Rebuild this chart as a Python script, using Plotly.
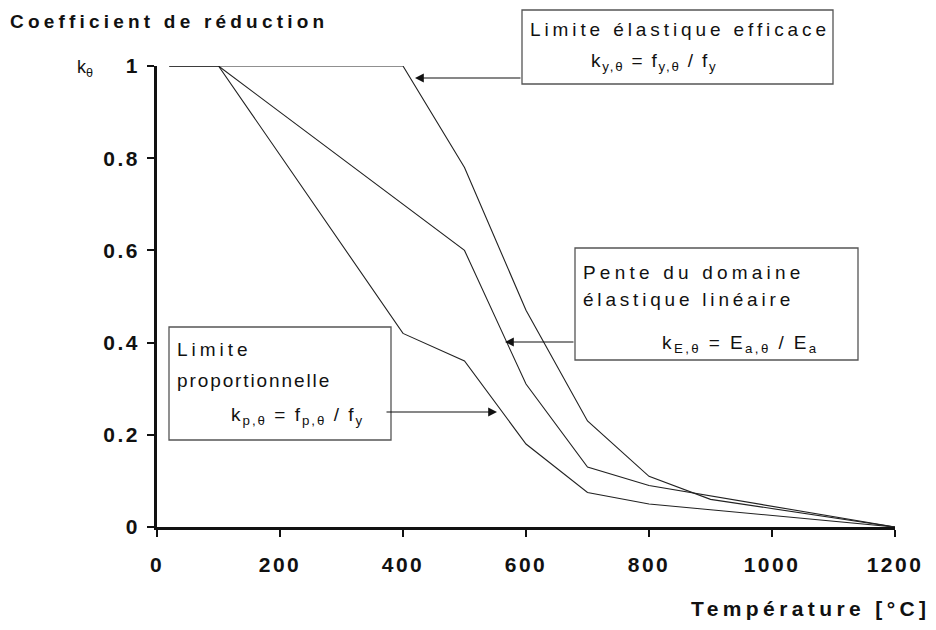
import plotly.graph_objects as go

temperature = [20, 100, 200, 300, 400, 500, 600, 700, 800, 900, 1000, 1100, 1200]
k_y = [1.0, 1.0, 1.0, 1.0, 1.0, 0.78, 0.47, 0.23, 0.11, 0.06, 0.04, 0.02, 0.0]
k_E = [1.0, 1.0, 0.9, 0.8, 0.7, 0.6, 0.31, 0.13, 0.09, 0.0675, 0.045, 0.0225, 0.0]
k_p = [1.0, 1.0, 0.807, 0.613, 0.42, 0.36, 0.18, 0.075, 0.05, 0.0375, 0.025, 0.0125, 0.0]

x_ticks = [0, 200, 400, 600, 800, 1000, 1200]
x_tick_labels = ["0", "200", "400", "600", "800", "1000", "1200"]
y_ticks = [0, 0.2, 0.4, 0.6, 0.8, 1]
y_tick_labels = ["0", "0.2", "0.4", "0.6", "0.8", "1"]

FONT = "Liberation Sans, Arial, sans-serif"
OFF = 8  # page body margin
W, H = 936 - OFF, 630 - OFF
L, T = 157 - OFF, 66 - OFF
R, B = W - (895 - OFF), H - (527 - OFF)
PW, PH = W - L - R, H - T - B


def px(x):
    return (x - OFF - L) / PW


def py(y):
    return (H - B - (y - OFF)) / PH


def sp(text, s=1.5):
    return f'<span style="letter-spacing:{s}px">{text}</span>'


fig = go.Figure()
for vals in (k_y, k_E, k_p):
    fig.add_trace(go.Scatter(x=temperature, y=vals, mode="lines",
                             line=dict(color="#222", width=1.1),
                             showlegend=False, cliponaxis=False, hoverinfo="skip"))

box = dict(type="rect", xref="paper", yref="paper", line=dict(color="#555", width=1.3),
           fillcolor="white", layer="above")
fig.add_shape(box, x0=px(522), x1=px(833), y0=py(84), y1=py(10))
fig.add_shape(box, x0=px(575), x1=px(858), y0=py(360), y1=py(248))
fig.add_shape(box, x0=px(169), x1=px(391), y0=py(440), y1=py(327))

txt = dict(xref="paper", yref="paper", showarrow=False, xanchor="left", yanchor="middle",
           font=dict(family=FONT, size=19, color="#111"))
labels = [
    (528, 29, sp("Limite élastique efficace", 3.9)),
    (589, 62, sp("k<sub>y,θ</sub> = f<sub>y,θ</sub> / f<sub>y</sub>", 1.8)),
    (581, 272, sp("Pente du domaine", 4.2)),
    (581, 299, sp("élastique linéaire", 3.8)),
    (660, 344, sp("k<sub>E,θ</sub> = E<sub>a,θ</sub> / E<sub>a</sub>", 2.4)),
    (175, 350, sp("Limite", 4)),
    (175, 380, sp("proportionnelle", 1.9)),
    (229, 416, sp("k<sub>p,θ</sub> = f<sub>p,θ</sub> / f<sub>y</sub>", 2)),
]
for x, y, t in labels:
    fig.add_annotation(txt, x=px(x), y=py(y), text=t)

arrow = dict(xref="paper", yref="paper", axref="pixel", ayref="pixel", text="",
             showarrow=True, arrowhead=2, arrowsize=1.6, arrowwidth=1.1, arrowcolor="#111")
fig.add_annotation(arrow, x=px(415), y=py(78), ax=522 - 415, ay=0)
fig.add_annotation(arrow, x=px(505), y=py(342), ax=575 - 505, ay=0)
fig.add_annotation(arrow, x=px(497), y=py(412), ax=385 - 497, ay=0)

fig.add_annotation(xref="paper", yref="paper", x=px(8), y=py(22), xanchor="left", yanchor="middle",
                   showarrow=False, text="<b>" + sp("Coefficient de réduction", 4.2) + "</b>",
                   font=dict(family=FONT, size=19, color="#111"))
fig.add_annotation(xref="paper", yref="paper", x=px(75), y=py(68), xanchor="left", yanchor="middle",
                   showarrow=False, text="k<sub>θ</sub>", font=dict(family=FONT, size=18, color="#111"))
fig.add_annotation(xref="paper", yref="paper", x=px(932), y=py(608), xanchor="right", yanchor="middle",
                   showarrow=False, text="<b>" + sp("Température [°C]", 4.4) + "</b>",
                   font=dict(family=FONT, size=21, color="#111"))

tick_font = dict(family=FONT, size=21, color="#111", weight="bold")
fig.update_layout(
    width=W, height=H, margin=dict(l=L, r=R, t=T, b=B),
    plot_bgcolor="white", paper_bgcolor="white",
    xaxis=dict(range=[0, 1200], tickvals=x_ticks, ticktext=[sp(t, 2.5) for t in x_tick_labels],
               showgrid=False, zeroline=False,
               showline=True, linecolor="#111", linewidth=2.5, ticks="outside", ticklen=7,
               tickwidth=2, tickcolor="#111", ticklabelstandoff=10, tickfont=tick_font),
    yaxis=dict(range=[0, 1], tickvals=y_ticks, ticktext=[sp(t, 2.5) for t in y_tick_labels],
               showgrid=False, zeroline=False,
               showline=True, linecolor="#111", linewidth=2.5, ticks="outside", ticklen=7,
               tickwidth=2, tickcolor="#111", ticklabelstandoff=3, tickfont=tick_font),
)

fig.write_html("out.html")
